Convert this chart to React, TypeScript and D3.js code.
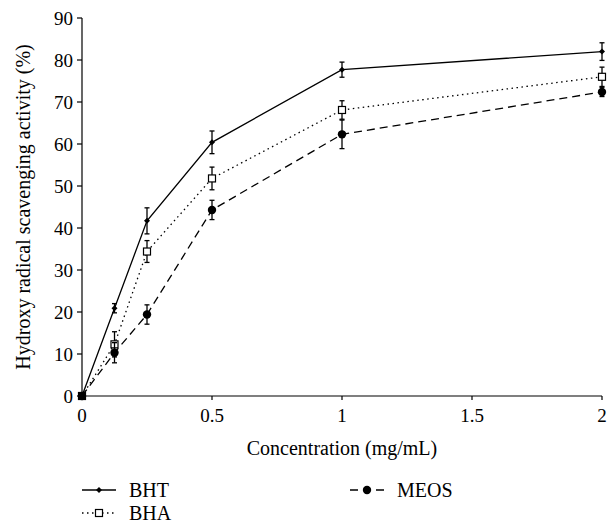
import React from 'react';
import * as d3 from 'd3';

const width = 612;
const height = 526;
const margin = { top: 18, right: 10, bottom: 130, left: 82 };

// concentration (mg/mL)
const concentrations = [0, 0.125, 0.25, 0.5, 1, 2];
const bht = [0, 20.9, 41.7, 60.4, 77.7, 82.0];
const bhtErr = [0, 1.1, 3.1, 2.7, 1.8, 2.1];
const bha = [0, 12.3, 34.4, 51.8, 68.1, 76.0];
const bhaErr = [0, 3.0, 2.6, 2.7, 2.2, 2.3];
const meos = [0, 10.3, 19.4, 44.3, 62.3, 72.4];
const meosErr = [0, 2.4, 2.3, 2.3, 3.4, 1.1];

const xTicks = [0, 0.5, 1, 1.5, 2];
const yTicks = [0, 10, 20, 30, 40, 50, 60, 70, 80, 90];

const font = '"Liberation Serif", "DejaVu Serif", serif';

const xScale = d3.scaleLinear().domain([0, 2]).range([margin.left, 602]);
const yScale = d3.scaleLinear().domain([0, 90]).range([396, margin.top]);

const series = [
  { name: 'BHT', values: bht, err: bhtErr, dash: null, marker: 'diamond' },
  { name: 'BHA', values: bha, err: bhaErr, dash: '1.5,3.5', marker: 'square' },
  { name: 'MEOS', values: meos, err: meosErr, dash: '8,5', marker: 'circle' },
];

function Marker({ type, x, y }: { type: string; x: number; y: number }) {
  if (type === 'diamond') {
    const s = 3;
    return <path d={`M${x},${y - s}L${x + s},${y}L${x},${y + s}L${x - s},${y}Z`} fill="#000" />;
  }
  if (type === 'square') {
    return <rect x={x - 3.5} y={y - 3.5} width={7} height={7} fill="#fff" stroke="#000" strokeWidth={1.2} />;
  }
  return <circle cx={x} cy={y} r={4.2} fill="#000" />;
}

export default function App() {
  const line = d3.line<number>()
    .x((d, i) => xScale(concentrations[i]))
    .y(d => yScale(d));

  const legend = [
    { s: series[0], x: 82, y: 490 },
    { s: series[2], x: 350, y: 490 },
    { s: series[1], x: 82, y: 513 },
  ];

  return (
    <svg width={width} height={height} style={{ position: 'absolute', left: 0, top: 0 }}>
      <rect width={width} height={height} fill="#fff" />
      {/* axes */}
      <line x1={margin.left} x2={margin.left} y1={yScale(90)} y2={yScale(0)} stroke="#000" strokeWidth={1.2} />
      <line x1={margin.left} x2={602} y1={yScale(0)} y2={yScale(0)} stroke="#000" strokeWidth={1.2} />
      {yTicks.map(t => (
        <g key={t}>
          <line x1={margin.left - 5} x2={margin.left} y1={yScale(t)} y2={yScale(t)} stroke="#000" strokeWidth={1.2} />
          <text x={margin.left - 9} y={yScale(t)} dy="0.35em" textAnchor="end" fontFamily={font} fontSize={19}>{t}</text>
        </g>
      ))}
      {xTicks.map(t => (
        <g key={t}>
          <line x1={xScale(t)} x2={xScale(t)} y1={yScale(0)} y2={yScale(0) + 4} stroke="#000" strokeWidth={1.2} />
          <text x={xScale(t)} y={422} textAnchor="middle" fontFamily={font} fontSize={19}>{t}</text>
        </g>
      ))}
      <text x={(margin.left + 602) / 2} y={455} textAnchor="middle" fontFamily={font} fontSize={20}>Concentration (mg/mL)</text>
      <text transform={`translate(23,${(yScale(0) + yScale(90)) / 2}) rotate(-90)`} textAnchor="middle" dy="0.35em" fontFamily={font} fontSize={20}>
        Hydroxy radical scavenging activity (%)
      </text>

      {/* series */}
      {series.map(s => (
        <g key={s.name}>
          <path d={line(s.values) || ''} fill="none" stroke="#000" strokeWidth={1.3} strokeDasharray={s.dash || undefined} />
          {s.values.map((v, i) => {
            const x = xScale(concentrations[i]);
            const e = s.err[i];
            if (!e) return null;
            return (
              <g key={i} stroke="#000" strokeWidth={1.3}>
                <line x1={x} x2={x} y1={yScale(v - e)} y2={yScale(v + e)} />
                <line x1={x - 2.5} x2={x + 2.5} y1={yScale(v - e)} y2={yScale(v - e)} />
                <line x1={x - 2.5} x2={x + 2.5} y1={yScale(v + e)} y2={yScale(v + e)} />
              </g>
            );
          })}
          {s.values.map((v, i) => (
            <Marker key={i} type={s.marker} x={xScale(concentrations[i])} y={yScale(v)} />
          ))}
        </g>
      ))}

      {/* legend */}
      {legend.map(({ s, x, y }) => (
        <g key={s.name}>
          <line x1={x} x2={x + 34} y1={y} y2={y} stroke="#000" strokeWidth={1.3} strokeDasharray={s.dash || undefined} />
          <Marker type={s.marker} x={x + 17} y={y} />
          <text x={x + 47} y={y} dy="0.35em" fontFamily={font} fontSize={20}>{s.name}</text>
        </g>
      ))}
    </svg>
  );
}
